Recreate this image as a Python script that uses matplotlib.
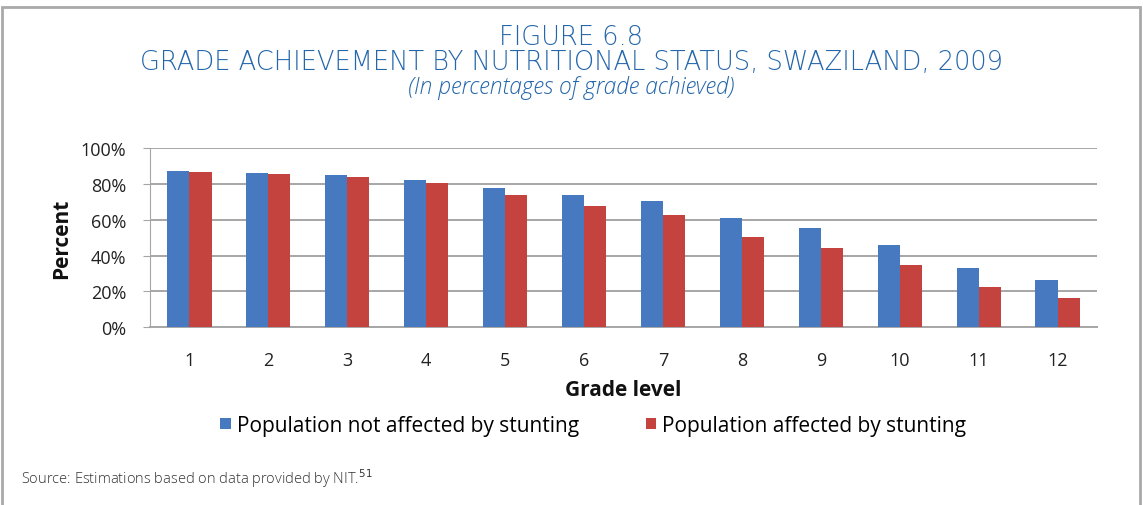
"""Grade achievement by nutritional status, Swaziland 2009"""
import numpy as np
import matplotlib.pyplot as plt
from matplotlib.patches import Rectangle
from matplotlib.ticker import PercentFormatter

grades = ['1', '2', '3', '4', '5', '6', '7', '8', '9', '10', '11', '12']
not_stunted = [87.1, 86.3, 85.0, 82.4, 78.1, 74.0, 70.3, 60.8, 55.7, 46.2, 33.4, 26.3]
stunted = [87.0, 85.9, 83.9, 80.5, 73.8, 67.5, 62.6, 50.7, 44.5, 34.8, 22.5, 16.6]

blue = '#4679c0'
red = '#c4433f'
title_blue = '#2466ab'

fig = plt.figure(figsize=(11.43, 5.06), dpi=100)
ax = fig.add_axes([0.1312, 0.3512, 0.8286, 0.3537])

ind = np.arange(len(grades))  # the x locations for the groups
width = 0.28      # the width of the bars

rects1 = ax.bar(ind - width / 2, not_stunted, width, color=blue, zorder=3)
rects2 = ax.bar(ind + width / 2, stunted, width, color=red, zorder=3)

ax.set_xlim(-0.5, len(grades) - 0.5)
ax.set_ylim(0, 100)
ax.set_yticks(np.arange(0, 101, 20))
ax.yaxis.set_major_formatter(PercentFormatter(decimals=0))
ax.set_xticks(ind)
ax.set_xticklabels(grades)
ax.grid(axis='y', color='#a6a6a6', linewidth=1.4, zorder=0)

for side in ('top', 'right'):
    ax.spines[side].set_visible(False)
ax.spines['left'].set_color('#a6a6a6')
ax.spines['bottom'].set_color('#a6a6a6')
ax.spines['bottom'].set_linewidth(1.4)
ax.tick_params(axis='y', length=5, color='#a6a6a6', labelsize=13,
               labelcolor='#222222', pad=12)
ax.tick_params(axis='x', length=0, labelsize=13, labelcolor='#222222', pad=17)
for lbl in ax.get_xticklabels() + ax.get_yticklabels():
    lbl.set_family('Open Sans')
    lbl.set_fontweight('medium')

ax.set_ylabel('Percent', fontsize=15, fontweight='bold', family='Open Sans',
              color='#111111', labelpad=6)
ax.set_xlabel('Grade level', fontsize=15, fontweight='bold', family='Open Sans',
              color='#111111', labelpad=7)

ax.legend((rects1[0], rects2[0]),
          ('Population not affected by stunting', 'Population affected by stunting'),
          loc='upper center', bbox_to_anchor=(0.468, -0.385), ncol=2, frameon=False,
          prop={'family': 'Open Sans', 'size': 15}, handlelength=0.5, handleheight=0.5,
          handletextpad=0.3, columnspacing=3.2)

# titles
fig.text(0.5, 0.925, 'FIGURE 6.8', ha='center', va='center', fontsize=18.5,
         color=title_blue, family='DejaVu Sans', fontweight='light')
fig.text(0.5, 0.877, 'GRADE ACHIEVEMENT BY NUTRITIONAL STATUS, SWAZILAND, 2009',
         ha='center', va='center', fontsize=18.5, color=title_blue,
         family='DejaVu Sans', fontweight='light')
fig.text(0.5, 0.826, '(In percentages of grade achieved)', ha='center', va='center',
         fontsize=16.5, color=title_blue, family='Open Sans', fontweight='light',
         style='italic')

fig.text(0.018, 0.055, r'Source: Estimations based on data provided by NIT.$^{51}$',
         ha='left', va='center', fontsize=10.5, color='#333333',
         family='Open Sans', fontweight='light')

# frame around the figure box
fig.patches.append(Rectangle((0.002, -0.05), 0.995, 1.034, transform=fig.transFigure,
                             fill=False, edgecolor='#a9a9a9', linewidth=2))

plt.savefig('out.png', dpi=100)
